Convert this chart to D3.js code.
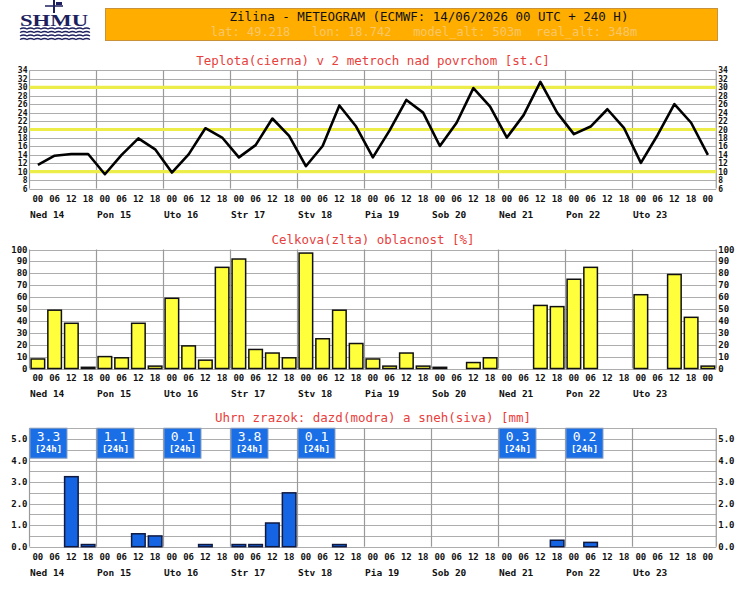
<!DOCTYPE html>
<html>
<head>
<meta charset="utf-8">
<script src="https://cdn.jsdelivr.net/npm/d3@7"></script>
<style>
  body { margin: 0; background: #fff; }
  svg { display: block; }
  .tick-lab { font-family: "DejaVu Sans Mono", monospace; font-size: 9px; font-weight: bold; fill: #111; }
  .tick-sm { font-size: 8px; }
  .day-lab { font-family: "DejaVu Sans Mono", monospace; font-size: 9.5px; font-weight: bold; fill: #111; }
  .title { font-family: "DejaVu Sans Mono", monospace; font-size: 12.5px; fill: #e8403c; }
</style>
</head>
<body>
<div id="meteo"></div>
<script>
// 6-hourly steps, 00 UTC 14/06 .. 00 UTC 24/06
var hours = ["00", "06", "12", "18"];
var days = ["Ned 14", "Pon 15", "Uto 16", "Str 17", "Stv 18", "Pia 19", "Sob 20", "Ned 21", "Pon 22", "Uto 23"];

var temperature = [11.6, 13.8, 14.2, 14.2, 9.4, 14.0, 17.9, 15.3, 9.8, 14.1,
  20.3, 18.1, 13.4, 16.3, 22.6, 18.5, 11.3, 16.1, 25.7, 20.7,
  13.4, 19.8, 27.0, 24.0, 16.1, 21.6, 29.8, 25.4, 18.1, 23.4,
  31.3, 24.0, 18.9, 20.7, 24.8, 20.3, 12.1, 18.7, 26.0, 21.6, 14.0];

var cloud = [8, 49, 38, 1, 10, 9, 38, 2, 59, 19,
  7, 85, 92, 16, 13, 9, 97, 25, 49, 21,
  8, 2, 13, 2, 1, 0, 5, 9, 0, 0,
  53, 52, 75, 85, 0, 0, 62, 0, 79, 43, 2];

var precip = [0, 0, 3.25, 0.1, 0, 0, 0.6, 0.5, 0, 0,
  0.1, 0, 0.1, 0.1, 1.1, 2.5, 0, 0, 0.1, 0,
  0, 0, 0, 0, 0, 0, 0, 0, 0, 0,
  0, 0.3, 0, 0.2, 0, 0, 0, 0, 0, 0, 0];

// daily totals shown in the blue boxes (day index, value)
var dailyTotals = [[0, "3.3"], [1, "1.1"], [2, "0.1"], [3, "3.8"], [4, "0.1"], [7, "0.3"], [8, "0.2"]];

var tempTicks = d3.range(6, 35, 2);
var cloudTicks = d3.range(0, 101, 10);
var precipTicks = [0, 1, 2, 3, 4, 5];

var W = 744, H = 589;
var nSlots = temperature.length;
var x = d3.scaleLinear().domain([0, nSlots]).range([29.5, 716.25]);
var slotW = x(1) - x(0);

var svg = d3.select("#meteo").append("svg")
  .attr("width", W).attr("height", H);

// ---- header ----
var logo = svg.append("g").attr("fill", "#1d1f5e").attr("stroke", "#1d1f5e");
logo.append("line").attr("x1", 54).attr("y1", 0).attr("x2", 54).attr("y2", 13).attr("stroke-width", 2);
logo.append("line").attr("x1", 45).attr("y1", 6).attr("x2", 63).attr("y2", 6).attr("stroke-width", 1.5);
logo.append("rect").attr("x", 56).attr("y", 2).attr("width", 6).attr("height", 3).attr("stroke", "none");
logo.append("text").text("SHMU")
  .attr("x", 54).attr("y", 26).attr("text-anchor", "middle")
  .attr("stroke", "none")
  .style("font-family", "Liberation Serif, serif").style("font-weight", "bold")
  .style("font-size", "17px").attr("textLength", 68).attr("lengthAdjust", "spacingAndGlyphs");
[29, 32.5, 36, 39.5].forEach(function(yy) {
  var p = d3.path();
  p.moveTo(20, yy);
  for (var k = 0; k < 10; k++) p.quadraticCurveTo(20 + k * 7 + 3.5, yy - 2, 20 + (k + 1) * 7, yy);
  logo.append("path").attr("d", p.toString()).attr("fill", "none").attr("stroke-width", 1.3);
});

svg.append("rect").attr("x", 105.5).attr("y", 8.5).attr("width", 612).attr("height", 32)
  .attr("fill", "#ffae00").attr("stroke", "#c8913a").attr("stroke-width", 1);
svg.append("text").text("Zilina - METEOGRAM (ECMWF: 14/06/2026 00 UTC + 240 H)")
  .attr("x", 429).attr("y", 21).attr("text-anchor", "middle")
  .style("font-family", "DejaVu Sans Mono, monospace").style("font-size", "12.5px").attr("fill", "#111");
svg.append("text").text("lat: 49.218   lon: 18.742   model_alt: 503m  real_alt: 348m")
  .attr("x", 424).attr("y", 36).attr("text-anchor", "middle")
  .style("white-space", "pre")
  .style("font-family", "DejaVu Sans Mono, monospace").style("font-size", "12px").attr("fill", "#f7c66a");

// ---- helpers ----
function panelGrid(g, y, ticks, top, bottom) {
  g.append("g").selectAll("line").data(ticks).enter().append("line")
    .attr("x1", x(0)).attr("x2", x(nSlots))
    .attr("y1", function(d) { return Math.round(y(d)) + 0.5; })
    .attr("y2", function(d) { return Math.round(y(d)) + 0.5; })
    .attr("stroke", "#adadad").attr("stroke-width", 1.2);
  g.append("g").selectAll("line").data(d3.range(0, days.length + 1)).enter().append("line")
    .attr("x1", function(d) { return d === days.length ? x(nSlots) : x(d * 4); })
    .attr("x2", function(d) { return d === days.length ? x(nSlots) : x(d * 4); })
    .attr("y1", top).attr("y2", bottom)
    .attr("stroke", "#9a9a9a").attr("stroke-width", 1.2);
}

function xLabels(g, yHours, yDays) {
  g.append("g").selectAll("text").data(d3.range(nSlots)).enter().append("text")
    .attr("class", "tick-lab")
    .attr("x", function(i) { return x(i + 0.5); })
    .attr("y", yHours).attr("text-anchor", "middle")
    .text(function(i) { return hours[i % 4]; });
  g.append("g").selectAll("text").data(days).enter().append("text")
    .attr("class", "day-lab")
    .attr("x", function(d, i) { return x(i * 4) + 0.5; })
    .attr("y", yDays)
    .text(function(d) { return d; });
}

function yLabels(g, y, ticks, fmt, cls) {
  var sides = [["end", x(0) - 2], ["start", x(nSlots) + 2]];
  sides.forEach(function(s) {
    g.append("g").selectAll("text").data(ticks).enter().append("text")
      .attr("class", "tick-lab " + (cls || ""))
      .attr("x", s[1]).attr("y", function(d) { return y(d) + 3; })
      .attr("text-anchor", s[0])
      .text(fmt);
  });
}

function title(txt, yy) {
  svg.append("text").attr("class", "title").attr("x", 373).attr("y", yy)
    .attr("text-anchor", "middle").text(txt);
}

// ---- temperature ----
var yT = d3.scaleLinear().domain([6, 34]).range([188.6, 70.4]);
var gT = svg.append("g");
title("Teplota(cierna) v 2 metroch nad povrchom [st.C]", 65);
panelGrid(gT, yT, tempTicks, yT(34), yT(6));
gT.append("g").selectAll("line").data([10, 20, 30]).enter().append("line")
  .attr("x1", x(0)).attr("x2", x(nSlots))
  .attr("y1", function(d) { return yT(d); }).attr("y2", function(d) { return yT(d); })
  .attr("stroke", "#eded4a").attr("stroke-width", 3.2);
gT.append("path").datum(temperature)
  .attr("d", d3.line().x(function(d, i) { return x(i + 0.5); }).y(function(d) { return yT(d); }))
  .attr("fill", "none").attr("stroke", "#000").attr("stroke-width", 2.6).attr("stroke-linejoin", "round");
yLabels(gT, yT, tempTicks, function(d) { return d; }, "tick-sm");
xLabels(gT, 202, 218);

// ---- cloud cover ----
var yC = d3.scaleLinear().domain([0, 100]).range([368.5, 249.5]);
var gC = svg.append("g");
title("Celkova(zlta) oblacnost [%]", 244);
panelGrid(gC, yC, cloudTicks, yC(100), yC(0));
gC.append("g").selectAll("rect").data(cloud.map(function(v, i) { return [i, v]; }).filter(function(d) { return d[1] > 0; }))
  .enter().append("rect")
  .attr("x", function(d) { return x(d[0]) + 1.6; })
  .attr("width", slotW - 3.2)
  .attr("y", function(d) { return yC(d[1]); })
  .attr("height", function(d) { return yC(0) - yC(d[1]); })
  .attr("fill", "#ffff3c").attr("stroke", "#111").attr("stroke-width", 1.5);
yLabels(gC, yC, cloudTicks, function(d) { return d; });
xLabels(gC, 381, 397);

// ---- precipitation ----
var yP = d3.scaleLinear().domain([0, 5.5]).range([546.7, 428.2]);
var gP = svg.append("g");
title("Uhrn zrazok: dazd(modra) a sneh(siva) [mm]", 422);
panelGrid(gP, yP, d3.range(0, 5.51, 0.5), yP(5.5), yP(0));
gP.append("g").selectAll("rect").data(precip.map(function(v, i) { return [i, v]; }).filter(function(d) { return d[1] > 0; }))
  .enter().append("rect")
  .attr("x", function(d) { return x(d[0]) + 1.6; })
  .attr("width", slotW - 3.2)
  .attr("y", function(d) { return yP(d[1]); })
  .attr("height", function(d) { return yP(0) - yP(d[1]); })
  .attr("fill", "#1464e4").attr("stroke", "#101a40").attr("stroke-width", 1.5);
var boxes = gP.append("g").selectAll("g").data(dailyTotals).enter().append("g")
  .attr("transform", function(d) { return "translate(" + (x(d[0] * 4) + 0.5) + "," + yP(5.5) + ")"; });
boxes.append("rect").attr("width", 37).attr("height", 30)
  .attr("fill", "#1a6ee6").attr("stroke", "#8aa0c0").attr("stroke-width", 1);
boxes.append("text").attr("x", 18.5).attr("y", 13).attr("text-anchor", "middle")
  .style("font-family", "DejaVu Sans Mono, monospace").style("font-size", "13px").attr("fill", "#fff")
  .text(function(d) { return d[1]; });
boxes.append("text").attr("x", 18.5).attr("y", 24).attr("text-anchor", "middle")
  .style("font-family", "DejaVu Sans Mono, monospace").style("font-size", "9px").style("font-weight", "bold").attr("fill", "#fff")
  .text("[24h]");
yLabels(gP, yP, precipTicks, function(d) { return d.toFixed(1); });
xLabels(gP, 560, 576);
</script>
</body>
</html>
